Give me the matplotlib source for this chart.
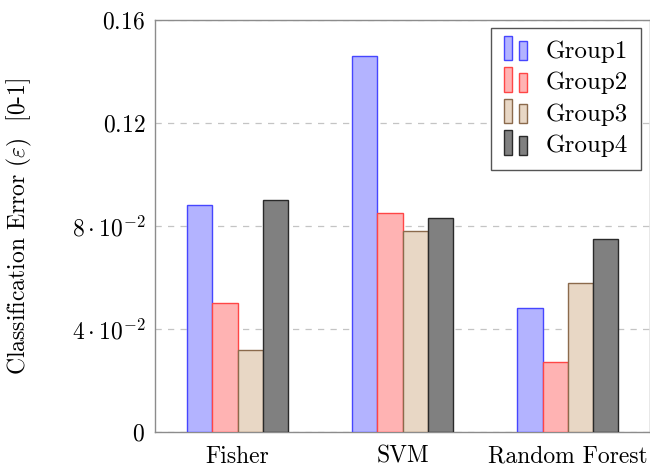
import numpy as np
import matplotlib
matplotlib.use('Agg')
import matplotlib.pyplot as plt
from matplotlib.patches import Patch, Rectangle
from matplotlib.legend_handler import HandlerBase

plt.rcParams['font.family'] = 'cmr10'
plt.rcParams['mathtext.fontset'] = 'cm'
plt.rcParams['axes.unicode_minus'] = False
plt.rcParams['axes.formatter.use_mathtext'] = True

# data
methods = ['Fisher', 'SVM', 'Random Forest']
groups = ['Group1', 'Group2', 'Group3', 'Group4']
group1 = [0.088, 0.146, 0.048]
group2 = [0.050, 0.085, 0.027]
group3 = [0.032, 0.078, 0.058]
group4 = [0.090, 0.083, 0.075]
yticks = [0, 0.04, 0.08, 0.12, 0.16]
yticklabels = ['$0$', r'$4\cdot10^{-2}$', r'$8\cdot10^{-2}$', '$0.12$', '$0.16$']

fills = ['#b3b3ff', '#ffb3b3', '#e8d7c5', '#808080']
edges = ['#4646ff', '#ff4646', '#8b6a4c', '#2a2a2a']


class TwoBars(HandlerBase):
    # pgfplots style legend image: two small bars
    def create_artists(self, legend, orig, xd, yd, w, h, fontsize, trans):
        bw = w * 0.36
        y0 = -yd - 0.15 * h
        r1 = Rectangle((-xd, y0), bw, h * 1.4, facecolor=orig.get_facecolor(),
                       edgecolor=orig.get_edgecolor(), lw=1.0, transform=trans)
        r2 = Rectangle((-xd + w - bw, y0), bw, h * 1.1, facecolor=orig.get_facecolor(),
                       edgecolor=orig.get_edgecolor(), lw=1.0, transform=trans)
        return [r1, r2]


fig = plt.figure(figsize=(6.5, 4.7), dpi=100)
ax = fig.add_axes([0.2385, 0.081, 0.762, 0.8766])

x = np.arange(len(methods))
bw = 0.153
series = [group1, group2, group3, group4]
for i, vals in enumerate(series):
    ax.bar(x + (i - 1.5) * bw, vals, bw, color=fills[i], edgecolor=edges[i],
           linewidth=1.0, zorder=3)

ax.set_xlim(-0.5, 2.5)
ax.set_ylim(0, 0.16)
ax.set_xticks(x)
ax.set_xticklabels(methods, fontsize=17)
ax.set_yticks(yticks)
ax.set_yticklabels(yticklabels, fontsize=17)
ax.tick_params(length=0)
ax.tick_params(axis='x', pad=10)
ax.tick_params(axis='y', pad=7)

ax.set_axisbelow(True)
ax.yaxis.grid(True, linestyle=(0, (5, 5)), color='#c4c4c4', linewidth=0.9)
for s in ax.spines.values():
    s.set_color('#8c8c8c')
    s.set_linewidth(1.0)

ax.set_ylabel(r'Classification Error $(\varepsilon)$  [0-1]', fontsize=17, labelpad=27)

handles = [Patch(facecolor=fills[i], edgecolor=edges[i]) for i in range(4)]
leg = ax.legend(handles, groups, loc='upper right', bbox_to_anchor=(0.981, 0.981),
                borderaxespad=0, fontsize=18, handler_map={Patch: TwoBars()},
                handlelength=0.95, handletextpad=0.75, labelspacing=0.36, borderpad=0.5,
                fancybox=False, framealpha=1, edgecolor='#555555')
leg.get_frame().set_linewidth(1.0)

fig.savefig('out.png', dpi=100)
